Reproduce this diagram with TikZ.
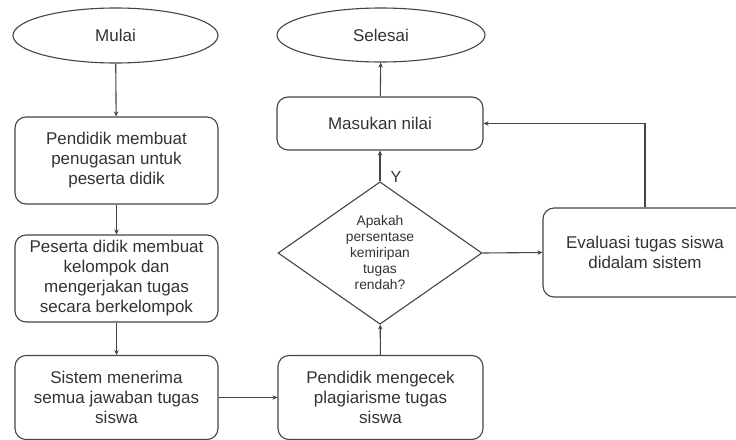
\documentclass[tikz,border=0pt]{standalone}
\usepackage{fontspec}
\setmainfont{Liberation Sans}
\usetikzlibrary{shapes.geometric,arrows.meta}
\definecolor{ln}{HTML}{444444}
\definecolor{tx}{HTML}{333333}
\begin{document}
\begin{tikzpicture}[x=1pt,y=-1pt,
  proc/.style={draw=ln,line width=1.1pt,rounded corners=11pt,align=center,text=tx,
    font=\fontsize{17}{20}\selectfont,inner sep=0pt},
  term/.style={draw=ln,line width=1.1pt,ellipse,inner sep=0pt,text=tx,
    font=\fontsize{17}{20}\selectfont},
  dec/.style={draw=ln,line width=1.1pt,diamond,inner sep=0pt,align=center,text=tx,
    font=\fontsize{13.8}{16}\selectfont,minimum width=204pt,minimum height=138pt},
  conn/.style={draw=ln,line width=1.1pt,-{Stealth[length=5pt,width=4.5pt]}}]
\useasboundingbox (0,0) rectangle (736,439);
\clip (0,0) rectangle (736,439);
\node[term,minimum width=205pt,minimum height=55pt] (mulai) at (115.5,35.5) {Mulai};
\node[proc,minimum width=203pt,minimum height=87pt] (b1) at (116.5,160.5) {Pendidik membuat\\penugasan untuk\\peserta didik};
\node[proc,minimum width=203pt,minimum height=87pt] (b2) at (116.5,278.5) {Peserta didik membuat\\kelompok dan\\mengerjakan tugas\\secara berkelompok};
\node[proc,minimum width=203pt,minimum height=84pt] (b3) at (116.5,397.5) {Sistem menerima\\semua jawaban tugas\\siswa};
\node[proc,minimum width=205pt,minimum height=84pt] (b4) at (380.5,397.5) {Pendidik mengecek\\plagiarisme tugas\\siswa};
\node[dec] (dia) at (380,253) {Apakah\\persentase\\kemiripan\\tugas\\rendah?};
\node[proc,minimum width=206pt,minimum height=53pt] (mas) at (380,123.5) {Masukan nilai};
\node[term,minimum width=208pt,minimum height=54pt] (sel) at (381,35) {Selesai};
\node[proc,minimum width=204pt,minimum height=89pt] (ev) at (645,252.5) {Evaluasi tugas siswa\\didalam sistem};
\node[text=tx,font=\fontsize{16}{18}\selectfont,inner sep=0pt] (ylab) at (396,177) {Y};
\draw[conn] (mulai) -- (b1);
\draw[conn] (b1) -- (b2);
\draw[conn] (b2) -- (b3);
\draw[conn] (b3.east) -- (b4.west);
\draw[conn] (b4) -- (dia);
\draw[conn] (dia) -- (mas);
\draw[conn] (mas) -- (sel);
\draw[conn] (dia.east) -- (ev.west);
\draw[conn] (ev.north) |- (mas.east);
\end{tikzpicture}
\end{document}
